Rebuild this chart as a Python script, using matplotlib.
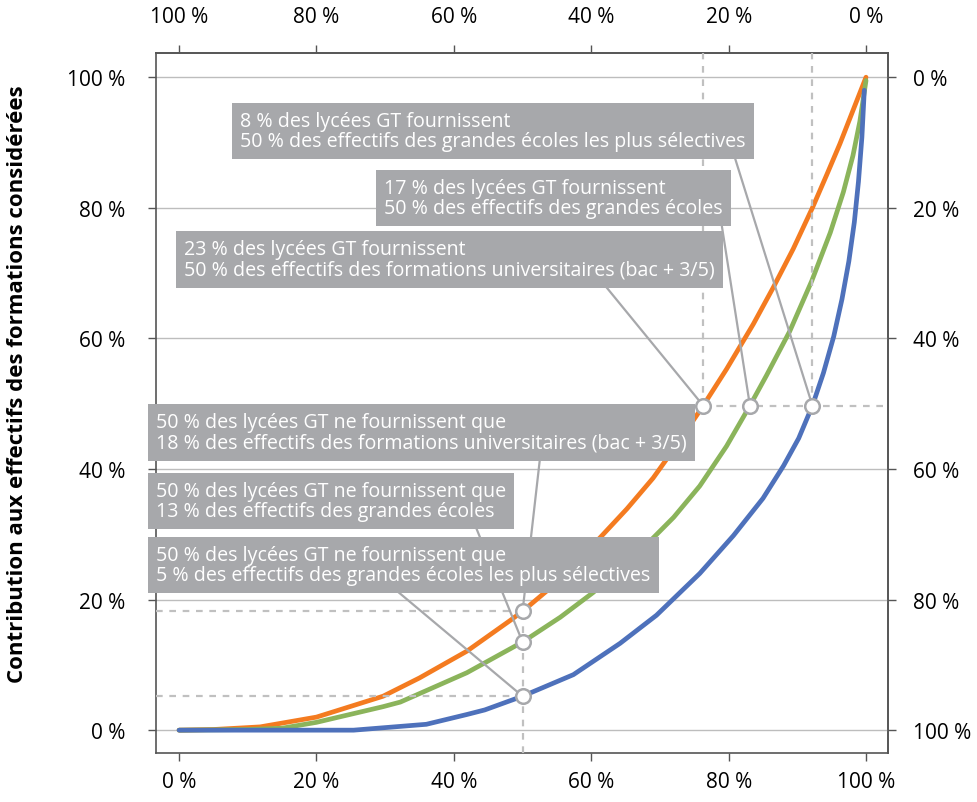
import matplotlib.pyplot as plt

plt.rcParams['font.family'] = ['Open Sans', 'DejaVu Sans']

# part cumulee des lycees GT (x) et contribution cumulee aux effectifs (y)
x_univ = [0, 0.05, 0.118, 0.2, 0.297, 0.35, 0.419, 0.482, 0.5, 0.535, 0.574, 0.613, 0.652, 0.69, 0.724,
          0.763, 0.797, 0.836, 0.865, 0.894, 0.922, 0.943, 0.962, 0.981, 1.0]
y_univ = [0, 0.001, 0.005, 0.02, 0.052, 0.08, 0.121, 0.168, 0.182, 0.213, 0.253, 0.295, 0.339, 0.386, 0.436,
          0.497, 0.553, 0.622, 0.678, 0.737, 0.8, 0.851, 0.898, 0.949, 1.0]

x_ge = [0, 0.1, 0.15, 0.2, 0.297, 0.322, 0.419, 0.5, 0.555, 0.603, 0.686, 0.72, 0.758, 0.797,
        0.831, 0.855, 0.889, 0.921, 0.948, 0.967, 0.981, 0.991, 1.0]
y_ge = [0, 0.001, 0.003, 0.012, 0.036, 0.043, 0.088, 0.135, 0.173, 0.211, 0.29, 0.326, 0.374, 0.435,
        0.497, 0.543, 0.611, 0.688, 0.762, 0.824, 0.88, 0.932, 0.995]

x_sel = [0, 0.254, 0.36, 0.419, 0.445, 0.5, 0.574, 0.642, 0.695, 0.758, 0.807, 0.85, 0.88, 0.902,
         0.922, 0.938, 0.953, 0.965, 0.975, 0.983, 0.989, 0.994, 0.9975]
y_sel = [0, 0, 0.009, 0.024, 0.031, 0.052, 0.085, 0.133, 0.176, 0.24, 0.298, 0.355, 0.405, 0.447,
         0.497, 0.547, 0.603, 0.66, 0.718, 0.778, 0.84, 0.908, 0.98]

# points remarquables
half_x = [0.763, 0.831, 0.922]   # part des lycees pour 50 % des effectifs (univ, GE, GE sel.)
half_level = 0.497
half_y = [0.182, 0.135, 0.052]   # contribution de 50 % des lycees (univ, GE, GE sel.)

labels_top = [
    "8 % des lycées GT fournissent\n50 % des effectifs des grandes écoles les plus sélectives",
    "17 % des lycées GT fournissent\n50 % des effectifs des grandes écoles",
    "23 % des lycées GT fournissent\n50 % des effectifs des formations universitaires (bac + 3/5)",
]
labels_bottom = [
    "50 % des lycées GT ne fournissent que\n18 % des effectifs des formations universitaires (bac + 3/5)",
    "50 % des lycées GT ne fournissent que\n13 % des effectifs des grandes écoles",
    "50 % des lycées GT ne fournissent que\n5 % des effectifs des grandes écoles les plus sélectives",
]

ticks = [0, 0.2, 0.4, 0.6, 0.8, 1.0]
tick_labels = ['0 %', '20 %', '40 %', '60 %', '80 %', '100 %']
tick_labels_rev = tick_labels[::-1]

c_univ = '#f47b20'
c_ge = '#8bb45b'
c_sel = '#4e71bb'
c_box = '#a7a8ab'
c_dash = '#c0c0c0'
c_axis = '#555555'

fig = plt.figure(figsize=(9.77, 8.03), dpi=100, facecolor='white')
ax = fig.add_axes([0.1594, 0.0610, 0.7495, 0.8717])
ax.set_xlim(-0.034, 1.032)
ax.set_ylim(-0.035, 1.037)

for t in ticks:
    ax.axhline(t, color='#bdbdbd', lw=1.0, zorder=1)

curve = dict(lw=3.4, solid_capstyle='round', solid_joinstyle='round', zorder=3)
ax.plot(x_univ, y_univ, color=c_univ, **curve)
ax.plot(x_ge, y_ge, color=c_ge, **curve)
ax.plot(x_sel, y_sel, color=c_sel, **curve)

dash = dict(color=c_dash, lw=1.6, ls=(0, (3, 3)), zorder=4)
# pointilles verticaux / horizontaux
ax.plot([half_x[0], half_x[0]], [half_level, 1.037], **dash)
ax.plot([half_x[2], half_x[2]], [half_level, 1.037], **dash)
ax.plot([half_x[0], 1.032], [half_level, half_level], **dash)
ax.plot([0.5, 0.5], [-0.035, half_y[0]], **dash)
ax.plot([-0.034, 0.5], [half_y[0], half_y[0]], **dash)
ax.plot([-0.034, 0.5], [half_y[2], half_y[2]], **dash)

# encadres
box = dict(boxstyle='square,pad=0.42', fc=c_box, ec='none')
top_pos = [(0.0888, 0.918), (0.298, 0.815), (0.0073, 0.721)]
bottom_pos = [(-0.0335, 0.456), (-0.0335, 0.351), (-0.0335, 0.253)]
for txt, (tx, ty) in zip(labels_top + labels_bottom, top_pos + bottom_pos):
    ax.text(tx, ty, txt, color='white', fontsize=14.1, ha='left', va='center',
            linespacing=1.0, bbox=box, zorder=6)

# traits de rappel
lead = dict(color='#a7a8ab', lw=1.6, zorder=5)
top_start = [(0.809, 0.877), (0.790, 0.773), (0.620, 0.681)]
top_end = [half_x[2], half_x[1], half_x[0]]
for (sx, sy), ex in zip(top_start, top_end):
    ax.plot([sx, ex], [sy, half_level], **lead)
bottom_start = [(0.525, 0.413), (0.432, 0.311), (0.314, 0.216)]
for (sx, sy), ey in zip(bottom_start, half_y):
    ax.plot([sx, 0.5], [sy, ey], **lead)

ax.scatter(half_x, [half_level] * 3, s=110, facecolor='white', edgecolor='#a7a8ab', lw=1.8, zorder=7)
ax.scatter([0.5] * 3, half_y, s=110, facecolor='white', edgecolor='#a7a8ab', lw=1.8, zorder=7)

for sp in ax.spines.values():
    sp.set_color(c_axis)
    sp.set_linewidth(1.2)

ax.set_xticks(ticks, tick_labels)
ax.set_yticks(ticks, tick_labels)
ax.tick_params(axis='x', length=6, width=1, color=c_axis, labelsize=15, pad=7)
ax.tick_params(axis='y', length=6, width=1, color=c_axis, labelsize=15, pad=16)

top = ax.secondary_xaxis('top')
top.set_xticks(ticks, tick_labels_rev)
top.tick_params(length=6, width=1, color=c_axis, labelsize=15, pad=13)
right = ax.secondary_yaxis('right')
right.set_yticks(ticks, tick_labels_rev)
right.tick_params(length=6, width=1, color=c_axis, labelsize=15, pad=12)
for sec in (top, right):
    for sp in sec.spines.values():
        sp.set_color(c_axis)
        sp.set_linewidth(1.2)

fig.text(0.018, 0.521, 'Contribution aux effectifs des formations considérées', rotation=90,
         fontsize=16, fontweight='bold', ha='center', va='center')

fig.savefig('out.png', dpi=100, facecolor='white')
